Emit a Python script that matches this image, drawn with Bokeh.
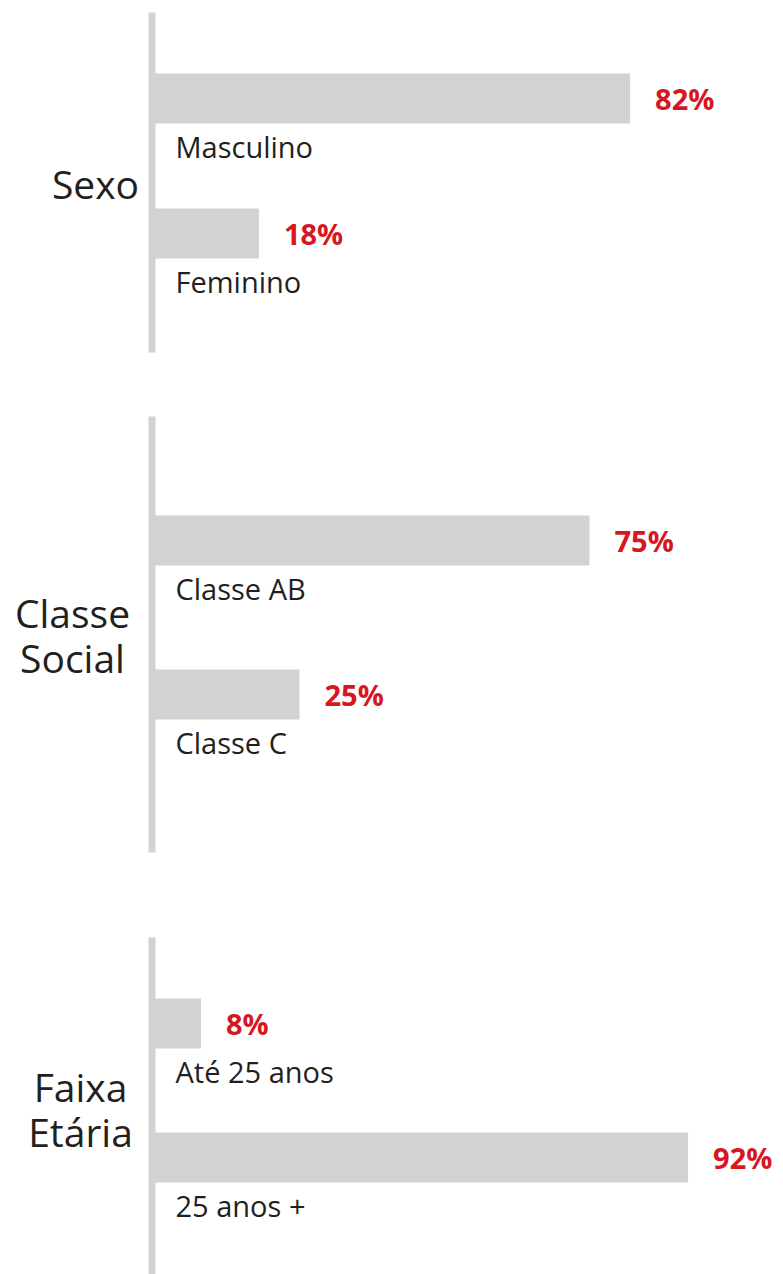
from bokeh.plotting import figure
from bokeh.models import Range1d, ColumnDataSource
from bokeh.core.properties import value
from bokeh.embed import file_html
from bokeh.resources import INLINE

# ---- data ----
groups = ["Sexo", "Classe\nSocial", "Faixa\nEtária"]
categories = ["Masculino", "Feminino", "Classe AB", "Classe C", "Até 25 anos", "25 anos +"]
category_group = [0, 0, 1, 1, 2, 2]
percent = [82, 18, 75, 25, 8, 92]
value_labels = ["82%", "18%", "75%", "25%", "8%", "92%"]

# ---- layout (pixels from top) ----
W, H = 783, 1274
ORIGIN = 154          # pixel of 0%
PX_PER_PCT = 5.8
bar_top = [73, 208, 515, 669, 998, 1132]
BAR_H = 50
group_span = [(12, 352), (416, 852), (937, 1274)]
group_center_x = [95, 72, 80]
group_first_center = [183, 612, 1086]
GROUP_LINE_GAP = 45

GRAY = "#d1d2d4"
RED = "#d7161f"
DARK = "#231f20"
FONT = "Open Sans"

p = figure(width=W, height=H, output_backend="svg", toolbar_location=None,
           x_range=Range1d(-ORIGIN / PX_PER_PCT, (W - ORIGIN) / PX_PER_PCT),
           y_range=Range1d(H, 0), min_border=0)
p.axis.visible = False
p.grid.visible = False
p.outline_line_color = None
p.background_fill_color = "white"
p.border_fill_color = "white"

# vertical group lines
line_x = (151.5 - ORIGIN) / PX_PER_PCT
p.segment(x0=[line_x] * 3, x1=[line_x] * 3,
          y0=[s[0] for s in group_span], y1=[s[1] for s in group_span],
          line_color=GRAY, line_width=7)

# bars
src = ColumnDataSource(dict(
    left=[0] * len(percent), right=percent,
    top=bar_top, bottom=[t + BAR_H for t in bar_top],
    mid=[t + BAR_H / 2 for t in bar_top],
    lab_y=[t + BAR_H + 23 for t in bar_top],
    zero=[0] * len(percent),
    cat=categories, vlab=value_labels,
))
p.quad(left="left", right="right", top="top", bottom="bottom", source=src,
       fill_color=GRAY, line_color=None)

# value labels
p.text(x="right", y="mid", text="vlab", source=src, x_offset=25,
       text_font=value(FONT), text_font_style="bold", text_font_size="29px",
       text_color=RED, text_baseline="middle", text_align="left")

# category labels
p.text(x="zero", y="lab_y", text="cat", source=src, x_offset=21,
       text_font=value(FONT), text_font_size="29px",
       text_color=DARK, text_baseline="middle", text_align="left")

# group labels
gx, gy, gt = [], [], []
for i, g in enumerate(groups):
    for j, line in enumerate(g.split("\n")):
        gx.append((group_center_x[i] - ORIGIN) / PX_PER_PCT)
        gy.append(group_first_center[i] + j * GROUP_LINE_GAP)
        gt.append(line)
p.text(x=gx, y=gy, text=gt, text_font=value(FONT), text_font_size="39px",
       text_color=DARK, text_baseline="middle", text_align="center")

open("out.html", "w").write(file_html(p, INLINE))
